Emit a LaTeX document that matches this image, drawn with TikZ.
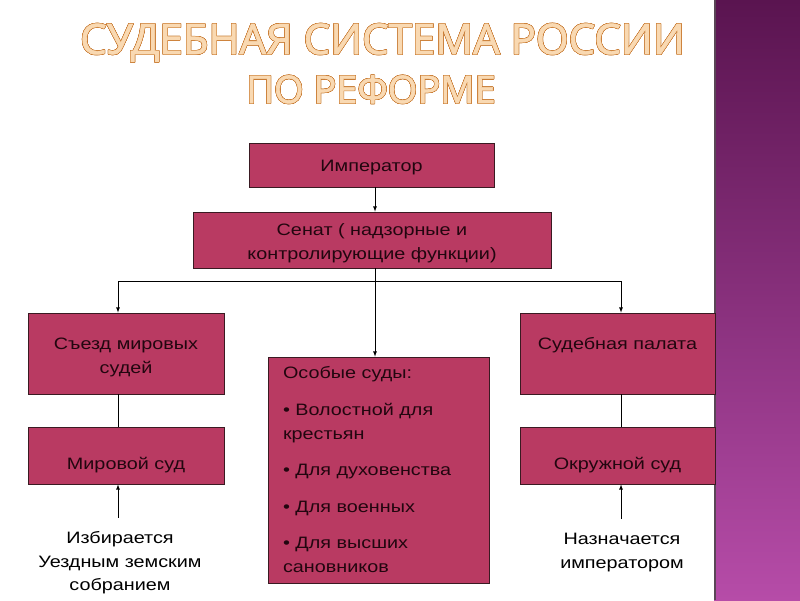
\documentclass[tikz,border=0pt]{standalone}
\usepackage{fontspec}
\setmainfont{Liberation Sans}[FakeStretch=1.2]
\newfontfamily\titlefont{Open Sans}[FakeBold=1.6]
\usepackage[copies]{contour}
\contourlength{0.5pt}

\definecolor{boxfill}{HTML}{B93A62}
\definecolor{boxline}{HTML}{3A1A22}
\definecolor{boxtext}{HTML}{22060F}
\definecolor{titlefill}{HTML}{F9D9B2}
\definecolor{titleline}{HTML}{C8782E}
\definecolor{stripetop}{HTML}{5A1450}
\definecolor{stripemid}{HTML}{80307A}
\definecolor{stripebot}{HTML}{B64CA8}
\definecolor{stripeedge}{HTML}{5A4656}

\newcommand{\lowstrut}[1]{\rule{0pt}{#1}}

\begin{document}
\begin{tikzpicture}[x=1pt,y=-1pt,
    box/.style={draw=boxline, fill=boxfill, line width=0.8pt, text=boxtext,
        font=\fontsize{16.5}{24}\selectfont, align=center, inner sep=0pt},
    note/.style={font=\fontsize{16.5}{23.5}\selectfont, align=center, inner sep=2pt},
    link/.style={line width=0.8pt}]
    \useasboundingbox (0,0) rectangle (800,600);
    \fill[white] (0,0) rectangle (800,600);

    % purple band on the right
    \shade[top color=stripetop, middle color=stripemid, bottom color=stripebot] (714,0) rectangle (800,600);
    \draw[line width=2pt, stripeedge] (715,0) -- (715,600);

    \node[anchor=base, text=titlefill, font=\titlefont\fontsize{42}{46}\selectfont] (title1) at (382.5,54) {\contour{titleline}{СУДЕБНАЯ СИСТЕМА РОССИИ}};
    \node[anchor=base, text=titlefill, font=\titlefont\fontsize{38}{42}\selectfont] (title2) at (371,103) {\contour{titleline}{ПО РЕФОРМЕ}};

    \coordinate (hub) at (375,281);
    \coordinate (hubL) at (118,281);
    \coordinate (hubR) at (621,281);

    \node[box, minimum width=245, minimum height=44, text height=14.5pt, text depth=2pt] (imp) at (371.5,165) {Император};
    \node[box, minimum width=358, minimum height=56] (senat) at (372,240) {\lowstrut{18pt}Сенат ( надзорные и\\контролирующие функции)};
    \node[box, minimum width=196, minimum height=81] (sjezd) at (126,353.5) {\lowstrut{19pt}Съезд мировых\\судей};
    \node[box, minimum width=196, minimum height=57, text height=28pt, text depth=0pt] (mir) at (126,455.5) {Мировой суд};
    \node[box, minimum width=195, minimum height=81, text height=11.5pt, text depth=19pt] (palata) at (617.5,353.5) {Судебная палата};
    \node[box, minimum width=195, minimum height=57, text height=28pt, text depth=0pt] (okr) at (617.5,455.5) {Окружной суд};
    \node[box, minimum width=221, minimum height=226, text width=191, align=left,
        font=\fontsize{16.5}{24}\selectfont] (osob) at (378.5,470)
        {Особые суды:\\[12.5pt]
         • Волостной для\\крестьян\\[12.5pt]
         • Для духовенства\\[12.5pt]
         • Для военных\\[12.5pt]
         • Для высших\\сановников};

    \node[note] (izb) at (120,563) {Избирается\\Уездным земским\\собранием};
    \node[note] (naz) at (622,552.5) {Назначается\\императором};

    \draw[link,-latex] (imp.south -| hub) -- (senat.north -| hub);
    \draw[link] (senat.south -| hub) -- (hub);
    \draw[link,-latex] (hub) -- (osob.north -| hub);
    \draw[link] (hubL) -- (hubR); % branch line
    \draw[link,-latex] (hubL) -- (sjezd.north -| hubL);
    \draw[link,-latex] (hubR) -- (palata.north -| hubR);
    \draw[link] (sjezd.south -| hubL) -- (mir.north -| hubL);
    \draw[link] (palata.south -| hubR) -- (okr.north -| hubR);
    \draw[link,-latex,shorten <=12pt] (izb.north -| hubL) -- (mir.south -| hubL);
    \draw[link,-latex,shorten <=12pt] (naz.north -| hubR) -- (okr.south -| hubR);
\end{tikzpicture}
\end{document}
